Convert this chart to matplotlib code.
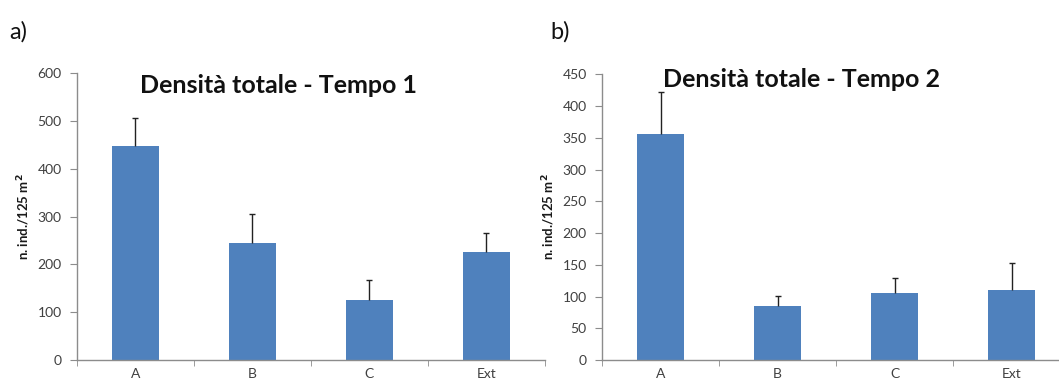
import matplotlib.pyplot as plt
import numpy as np

plt.rcParams['font.family'] = ['Lato', 'DejaVu Sans']

categories = ["A", "B", "C", "Ext"]

# Tempo 1: mean density and upper error
tempo1_mean = [447, 245, 126, 225]
tempo1_err = [59, 60, 42, 41]

# Tempo 2
tempo2_mean = [356, 85, 105, 111]
tempo2_err = [66, 16, 24, 42]

bar_color = "#4F81BD"
axis_color = "#8C8C8C"
text_color = "#404040"

fig = plt.figure(figsize=(10.59, 3.80), dpi=100)


def draw_panel(rect, means, errs, ymax, ystep, title, letter, letter_x, title_x, title_y):
    ax = fig.add_axes(rect)
    x = np.arange(len(categories)) + 0.5
    means = np.asarray(means)
    tops = means + np.asarray(errs)
    ax.bar(x, means, width=0.4, color=bar_color, zorder=2)
    # upper-only error bars with a cap on top
    ax.vlines(x, means, tops, colors="#222222", linewidth=1.0, zorder=3)
    ax.plot(x, tops, linestyle="none", marker="_", markersize=5,
            markeredgewidth=1.0, color="#222222", zorder=3)
    ax.set_xlim(0, len(categories))
    ax.set_ylim(0, ymax)
    ax.set_yticks(np.arange(0, ymax + 1, ystep))
    ax.set_xticks(x)
    ax.set_xticklabels(categories)
    ax.set_xticks(np.arange(0, len(categories) + 1), minor=True)
    ax.tick_params(axis="x", which="major", length=0, pad=6,
                   labelsize=10, labelcolor=text_color)
    ax.tick_params(axis="x", which="minor", length=4, color=axis_color, direction="out")
    ax.tick_params(axis="y", length=5, color=axis_color, direction="out",
                   labelsize=10, labelcolor=text_color, pad=6)
    for side in ("top", "right"):
        ax.spines[side].set_visible(False)
    for side in ("left", "bottom"):
        ax.spines[side].set_color(axis_color)
        ax.spines[side].set_linewidth(1.0)
    ax.set_ylabel("n. ind./125 m$^\\mathbf{2}$", fontsize=9.5, fontweight="bold",
                  color="#1a1a1a", labelpad=4)
    fig.text(title_x, title_y, title, ha="center", va="baseline",
             fontsize=18, fontweight="bold", color="#111111")
    fig.text(letter_x, 0.915, letter, ha="left", va="center",
             fontsize=17, color="#111111")
    return ax


draw_panel([0.0727, 0.0526, 0.4419, 0.7553], tempo1_mean, tempo1_err, 600, 100,
           "Densità totale - Tempo 1", "a)", 0.009, 0.263, 0.754)
draw_panel([0.5685, 0.0526, 0.4419, 0.7518], tempo2_mean, tempo2_err, 450, 50,
           "Densità totale - Tempo 2", "b)", 0.52, 0.7564, 0.772)

fig.savefig("out.png", dpi=100)
